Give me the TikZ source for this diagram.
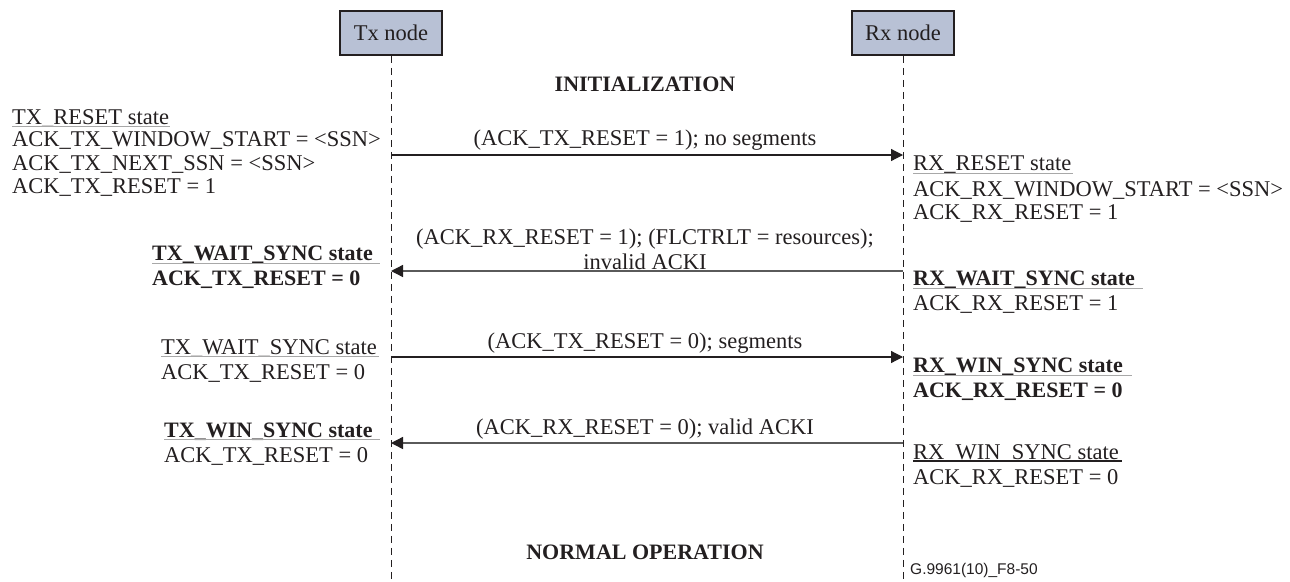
\documentclass[tikz,border=0pt]{standalone}
\usepackage{fontspec}
\setmainfont{Liberation Serif}
\newfontfamily\figsans{Liberation Sans}
\usetikzlibrary{arrows.meta}
\definecolor{ink}{HTML}{231F20}
\definecolor{boxfill}{HTML}{B8C1D5}
\definecolor{rulegray}{HTML}{A8A8A8}
\definecolor{backline}{HTML}{5A5A5A}
\begin{document}
\begin{tikzpicture}[x=1pt,y=-1pt,
  every node/.style={text=ink, inner sep=0pt, font=\fontsize{22.5}{26}\selectfont},
  entity/.style={draw=ink, fill=boxfill, line width=1.8pt, minimum width=102pt, minimum height=44pt},
  lifeline/.style={draw=ink, line width=0.8pt, dash pattern=on 7pt off 5pt},
  fwd/.style={draw=ink, line width=1.2pt, -{Triangle[length=12pt,width=12pt]}},
  back/.style={draw=backline, line width=1.4pt, -{Triangle[length=12pt,width=12pt,fill=ink,color=ink]}},
  txt/.style={anchor=base west},
  lbl/.style={anchor=base},
  bf/.style={font=\fontsize{22}{26}\selectfont\bfseries},
  uline/.style={draw=rulegray, line width=0.8pt},
  ulinedark/.style={draw=ink, line width=1.6pt}]
\useasboundingbox (0,0) rectangle (1290,581);

% entities and lifelines
\node[entity] (tx) at (391,33) {Tx node};
\node[entity] (rx) at (903,33) {Rx node};
\coordinate (txend) at (391,581);
\coordinate (rxend) at (903,581);
\draw[lifeline] (tx.south) -- (txend);
\draw[lifeline] (rx.south) -- (rxend);

% phase headings
\node[lbl,bf] (init) at (645,91) {INITIALIZATION};
\node[lbl,bf] (normal) at (645,559) {NORMAL OPERATION};

% message anchors on the lifelines
\coordinate (t1) at (391,155); \coordinate (r1) at (903,155);
\coordinate (t2) at (391,271); \coordinate (r2) at (903,271);
\coordinate (t3) at (391,357); \coordinate (r3) at (903,357);
\coordinate (t4) at (391,443); \coordinate (r4) at (903,443);

% messages
\draw[fwd] (t1) -- (r1);
\node[lbl] (m1) at (645,145) {(ACK\_TX\_RESET = 1); no segments};
\draw[back] (r2) -- (t2);
\node[lbl] (m2a) at (645,244) {(ACK\_RX\_RESET = 1); (FLCTRLT = resources);};
\node[lbl] (m2b) at (645,269) {invalid ACKI};
\draw[fwd] (t3) -- (r3);
\node[lbl] (m3) at (645,348) {(ACK\_TX\_RESET = 0); segments};
\draw[back] (r4) -- (t4);
\node[lbl] (m4) at (645,434) {(ACK\_RX\_RESET = 0); valid ACKI};

% transmitter states
\node[txt] (ts1) at (12,124) {TX\_RESET state};
\draw[uline] (12,126) -- (170,126);
\node[txt] (ts1a) at (12,146) {ACK\_TX\_WINDOW\_START = <SSN>};
\node[txt] (ts1b) at (12,170) {ACK\_TX\_NEXT\_SSN = <SSN>};
\node[txt] (ts1c) at (12,193) {ACK\_TX\_RESET = 1};

\node[txt,bf] (ts2) at (152,260) {TX\_WAIT\_SYNC state};
\draw[uline] (152,263) -- (380,263);
\node[txt,bf] (ts2a) at (152,285) {ACK\_TX\_RESET = 0};

\node[txt] (ts3) at (161,354) {TX\_WAIT\_SYNC state};
\draw[uline] (161,356) -- (379,356);
\node[txt] (ts3a) at (161,379) {ACK\_TX\_RESET = 0};

\node[txt,bf] (ts4) at (164,437) {TX\_WIN\_SYNC state};
\draw[uline] (164,439) -- (380,439);
\node[txt] (ts4a) at (164,462) {ACK\_TX\_RESET = 0};

% receiver states
\node[txt] (rs1) at (913,170) {RX\_RESET state};
\draw[uline] (913,173) -- (1073,173);
\node[txt] (rs1a) at (913,196) {ACK\_RX\_WINDOW\_START = <SSN>};
\node[txt] (rs1b) at (913,219) {ACK\_RX\_RESET = 1};

\node[txt,bf] (rs2) at (913,285) {RX\_WAIT\_SYNC state};
\draw[uline] (913,288) -- (1143,288);
\node[txt] (rs2a) at (913,310) {ACK\_RX\_RESET = 1};

\node[txt,bf] (rs3) at (913,372) {RX\_WIN\_SYNC state};
\draw[uline] (913,375) -- (1132,375);
\node[txt,bf] (rs3a) at (913,397) {ACK\_RX\_RESET = 0};

\node[txt] (rs4) at (913,459) {RX\_WIN\_SYNC state};
\draw[ulinedark] (913,461) -- (1122,461);
\node[txt] (rs4a) at (913,484) {ACK\_RX\_RESET = 0};

% figure reference
\node[txt,font=\figsans\fontsize{15.5}{18}\selectfont] (ref) at (910,574) {G.9961(10)\_F8-50};
\end{tikzpicture}
\end{document}
